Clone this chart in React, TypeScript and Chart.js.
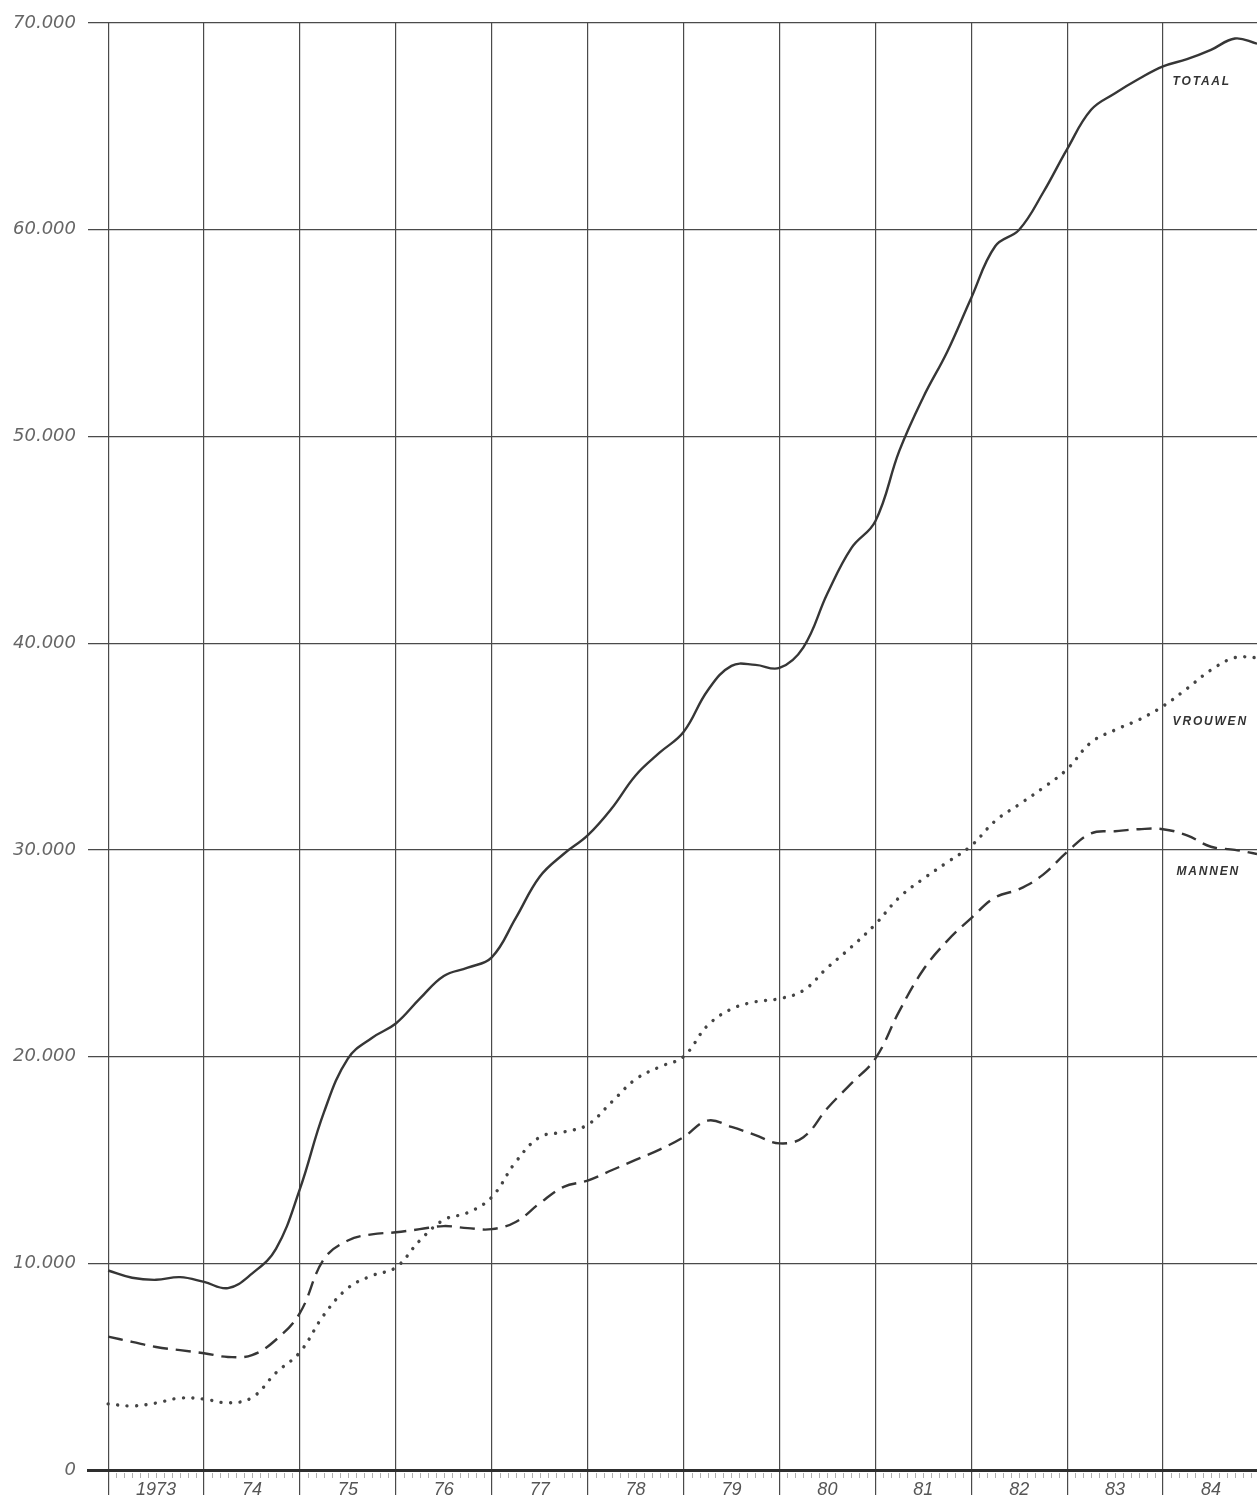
import React, { useEffect, useRef } from 'react';
import { Chart, registerables } from 'chart.js';

Chart.register(...registerables);

// Quarterly positions (decimal years)
const YEARS = [
  1973.0, 1973.25, 1973.5, 1973.75,
  1974.0, 1974.25, 1974.5, 1974.75,
  1975.0, 1975.25, 1975.5, 1975.75,
  1976.0, 1976.25, 1976.5, 1976.75,
  1977.0, 1977.25, 1977.5, 1977.75,
  1978.0, 1978.25, 1978.5, 1978.75,
  1979.0, 1979.25, 1979.5, 1979.75,
  1980.0, 1980.25, 1980.5, 1980.75,
  1981.0, 1981.25, 1981.5, 1981.75,
  1982.0, 1982.25, 1982.5, 1982.75,
  1983.0, 1983.25, 1983.5, 1983.75,
  1984.0, 1984.25, 1984.5, 1984.75, 1984.98,
];

const TOTAAL = [
  9650, 9300, 9200, 9330,
  9100, 8800, 9500, 10700,
  13600, 17300, 19900, 20900,
  21600, 22800, 23900, 24300,
  24800, 26700, 28700, 29800,
  30700, 32000, 33600, 34700,
  35700, 37700, 38900, 38950,
  38800, 39800, 42400, 44600,
  45900, 49300, 51900, 54100,
  56700, 59200, 60000, 61800,
  63900, 65800, 66600, 67300,
  67900, 68250, 68700, 69250, 69000,
];

const VROUWEN = [
  3200, 3100, 3240, 3480,
  3430, 3250, 3500, 4700,
  5700, 7500, 8800, 9400,
  9800, 11100, 12100, 12450,
  13200, 14900, 16100, 16350,
  16700, 17800, 18900, 19500,
  20000, 21500, 22300, 22650,
  22800, 23200, 24300, 25300,
  26400, 27700, 28600, 29400,
  30200, 31400, 32200, 33000,
  33900, 35200, 35800, 36300,
  36950, 37800, 38700, 39300, 39300,
];

const MANNEN = [
  6450, 6200, 5950, 5800,
  5650, 5470, 5560, 6300,
  7600, 10200, 11100, 11400,
  11500, 11650, 11800, 11700,
  11650, 12000, 12900, 13700,
  14000, 14500, 15000, 15500,
  16100, 16900, 16600, 16200,
  15800, 16100, 17500, 18700,
  19900, 22200, 24200, 25600,
  26700, 27700, 28100, 28800,
  29900, 30800, 30900, 31000,
  31000, 30700, 30150, 30000, 29800,
];

const YEAR_LABELS = ['1973', '74', '75', '76', '77', '78', '79', '80', '81', '82', '83', '84'];
const FIRST_YEAR = 1973;
const Y_TICKS = [0, 10000, 20000, 30000, 40000, 50000, 60000, 70000];

const SERIES_NAMES = ['TOTAAL', 'VROUWEN', 'MANNEN'];
const SERIES_LABEL_AT = [
  { x: 1984.1, y: 67150 },
  { x: 1984.1, y: 36200 },
  { x: 1984.14, y: 28950 },
];

const fmt = (v: number) => {
  if (v === 0) return '0';
  const s = String(v);
  return s.slice(0, s.length - 3) + '.' + s.slice(s.length - 3);
};

const labelsPlugin = {
  id: 'seriesLabels',
  afterDatasetsDraw(chart: any) {
    const { ctx, scales } = chart;
    const xs = scales.x;
    const ys = scales.y;
    ctx.save();
    // minor monthly ticks below the axis
    ctx.strokeStyle = '#b0b0b0';
    ctx.lineWidth = 1;
    for (let y = FIRST_YEAR; y < FIRST_YEAR + YEAR_LABELS.length + 1; y++) {
      for (let m = 1; m < 12; m++) {
        const v = y + m / 12;
        if (v > xs.max) continue;
        const px = Math.round(xs.getPixelForValue(v)) + 0.5;
        ctx.beginPath();
        ctx.moveTo(px, ys.bottom + 3);
        ctx.lineTo(px, ys.bottom + 8);
        ctx.stroke();
      }
    }
    ctx.fillStyle = '#333';
    ctx.font = 'italic bold 12px "Liberation Sans", Arial, sans-serif';
    (ctx as any).letterSpacing = '1.8px';
    ctx.textAlign = 'left';
    ctx.textBaseline = 'middle';
    SERIES_NAMES.forEach((name, i) => {
      const p = SERIES_LABEL_AT[i];
      ctx.fillText(name, xs.getPixelForValue(p.x), ys.getPixelForValue(p.y));
    });
    ctx.restore();
  },
};

export default function App() {
  const ref = useRef<HTMLCanvasElement | null>(null);

  useEffect(() => {
    if (!ref.current) return;
    const pts = (arr: number[]) => arr.map((v, i) => ({ x: YEARS[i], y: v }));
    const chart = new Chart(ref.current, {
      type: 'line',
      data: {
        datasets: [
          {
            label: 'Totaal',
            data: pts(TOTAAL),
            borderColor: '#363636',
            borderWidth: 2.4,
            pointRadius: 0,
            tension: 0.4,
            fill: false,
          },
          {
            label: 'Vrouwen',
            data: pts(VROUWEN),
            borderColor: '#444',
            borderWidth: 3.4,
            borderDash: [0.01, 9.5],
            borderCapStyle: 'round',
            pointRadius: 0,
            tension: 0.4,
            fill: false,
          },
          {
            label: 'Mannen',
            data: pts(MANNEN),
            borderColor: '#363636',
            borderWidth: 2.4,
            borderDash: [15, 8],
            pointRadius: 0,
            tension: 0.4,
            fill: false,
          },
        ],
      },
      options: {
        animation: false,
        responsive: false,
        devicePixelRatio: 1,
        layout: { padding: { top: 23, left: 0, right: 0, bottom: 0 } },
        plugins: {
          legend: { display: false },
          tooltip: { enabled: false },
        },
        scales: {
          x: {
            type: 'linear',
            min: 1972.79,
            max: 1984.98,
            afterBuildTicks: (scale: any) => {
              const t: any[] = [];
              for (let i = 0; i < YEAR_LABELS.length; i++) {
                t.push({ value: FIRST_YEAR + i });
                t.push({ value: FIRST_YEAR + i + 0.5 });
              }
              scale.ticks = t;
            },
            afterFit: (scale: any) => {
              scale.height = 33;
            },
            ticks: {
              autoSkip: false,
              maxRotation: 0,
              padding: -16,
              color: '#555',
              font: { family: '"Liberation Sans", Arial, sans-serif', size: 18, style: 'italic' },
              callback: (value: any) => {
                const v = Number(value);
                if (Number.isInteger(v)) return '';
                return YEAR_LABELS[Math.floor(v) - FIRST_YEAR];
              },
            },
            grid: {
              color: (ctx: any) =>
                ctx.tick && Number.isInteger(ctx.tick.value) ? '#4a4a4a' : 'rgba(0,0,0,0)',
              lineWidth: 1.2,
              tickLength: 25,
              drawTicks: true,
            },
            border: { display: true, color: '#2e2e2e', width: 3 },
          },
          y: {
            type: 'linear',
            min: 0,
            max: 70000,
            afterBuildTicks: (scale: any) => {
              scale.ticks = Y_TICKS.map((v) => ({ value: v }));
            },
            afterFit: (scale: any) => {
              scale.width = 88;
            },
            ticks: {
              padding: 12,
              color: '#666',
              font: { family: '"DejaVu Sans", sans-serif', size: 18, style: 'italic' },
              callback: (value: any) => fmt(Number(value)),
            },
            grid: {
              color: '#4a4a4a',
              lineWidth: 1.2,
              drawTicks: false,
            },
            border: { display: false },
          },
        },
      },
      plugins: [labelsPlugin],
    } as any);
    return () => chart.destroy();
  }, []);

  return (
    <div style={{ position: 'absolute', left: 0, top: 0, width: 1257, height: 1503, background: '#fff' }}>
      <canvas ref={ref} width={1257} height={1503} style={{ display: 'block' }} />
    </div>
  );
}
